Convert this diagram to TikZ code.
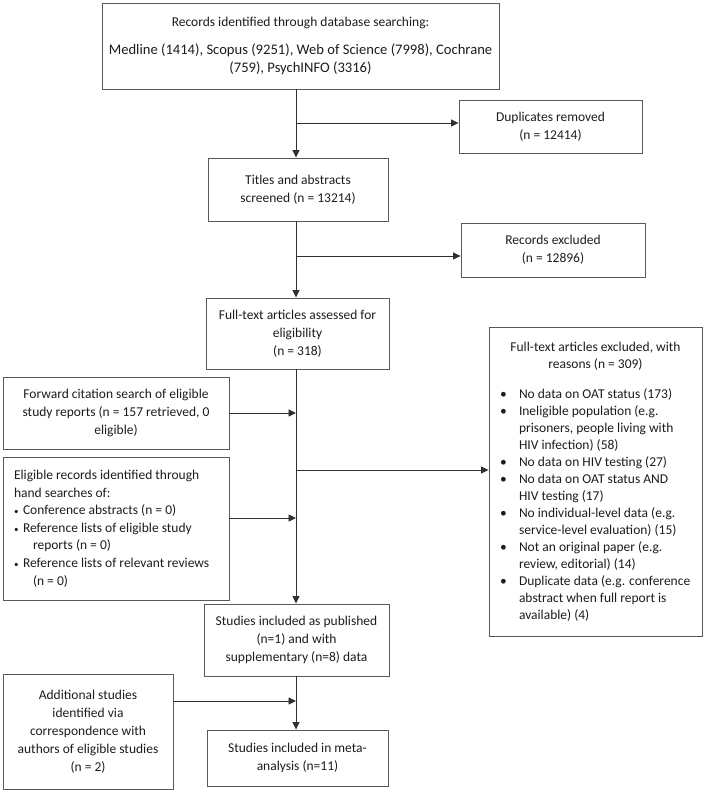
\documentclass[tikz,border=0pt]{standalone}
\usepackage{fontspec}
\setmainfont{Carlito}
\usetikzlibrary{arrows.meta}
\definecolor{boxgray}{HTML}{595959}
\definecolor{linegray}{HTML}{303030}
\definecolor{txt}{HTML}{1c1c1c}
\begin{document}
\begin{tikzpicture}[x=1pt,y=-1pt,
  flowbox/.style={draw=boxgray, line width=0.9pt, inner sep=0pt, anchor=center,
    text=txt, font=\fontsize{13.5}{18}\selectfont, align=center},
  arr/.style={draw=linegray, line width=0.9pt, -{Triangle[length=7.5pt,width=7pt]}}]
\useasboundingbox (0,0) rectangle (709,794);

\node[flowbox, minimum width=397pt, minimum height=86pt] (top) at (300.5,46)
  {Records identified through database searching:\\[10pt]
   {\fontsize{14.6}{17.5}\selectfont Medline (1414), Scopus (9251), Web of Science (7998), Cochrane}\\
   {\fontsize{14.6}{17.5}\selectfont (759), PsychINFO (3316)}};
\node[flowbox, minimum width=183pt, minimum height=53pt] (dup) at (550.5,126.5)
  {Duplicates removed\\(n = 12414)};
\node[flowbox, minimum width=180pt, minimum height=63pt] (titles) at (298,189.5)
  {Titles and abstracts\\screened (n = 13214)};
\node[flowbox, minimum width=184pt, minimum height=54pt] (excl) at (553,250)
  {Records excluded\\(n = 12896)};
\node[flowbox, minimum width=183pt, minimum height=71pt] (full) at (297.5,333.5)
  {Full-text articles assessed for\\eligibility\\(n = 318)};
\node[flowbox, minimum width=213pt, minimum height=309pt, align=left,
      font=\fontsize{13.5}{17}\selectfont] (right) at (595.5,481.5)
  {\makebox[191pt]{Full-text articles excluded, with}\\
   \makebox[191pt]{reasons (n = 309)}\\[13pt]
   \makebox[19pt][l]{•}No data on OAT status (173)\\
   \makebox[19pt][l]{•}Ineligible population (e.g.\\
   \hspace*{19pt}prisoners, people living with\\
   \hspace*{19pt}HIV infection) (58)\\
   \makebox[19pt][l]{•}No data on HIV testing (27)\\
   \makebox[19pt][l]{•}No data on OAT status AND\\
   \hspace*{19pt}HIV testing (17)\\
   \makebox[19pt][l]{•}No individual-level data (e.g.\\
   \hspace*{19pt}service-level evaluation) (15)\\
   \makebox[19pt][l]{•}Not an original paper (e.g.\\
   \hspace*{19pt}review, editorial) (14)\\
   \makebox[19pt][l]{•}Duplicate data (e.g. conference\\
   \hspace*{19pt}abstract when full report is\\
   \hspace*{19pt}available) (4)};
\node[flowbox, minimum width=226pt, minimum height=72pt] (fwd) at (116,413)
  {Forward citation search of eligible\\study reports (n = 157 retrieved, 0\\eligible)};
\node[flowbox, minimum width=226pt, minimum height=143pt, align=left,
      font=\fontsize{13.5}{17.6}\selectfont] (hand) at (116,528.5)
  {\makebox[204pt][l]{Eligible records identified through}\\
   hand searches of:\\
   \makebox[9pt][l]{\fontsize{9}{9}\selectfont•}Conference abstracts (n = 0)\\
   \makebox[9pt][l]{\fontsize{9}{9}\selectfont•}Reference lists of eligible study\\
   \hspace*{19pt}reports (n = 0)\\
   \makebox[9pt][l]{\fontsize{9}{9}\selectfont•}Reference lists of relevant reviews\\
   \hspace*{19pt}(n = 0)};
\node[flowbox, minimum width=185pt, minimum height=72pt] (incl) at (296.5,640)
  {Studies included as published\\(n=1) and with\\supplementary (n=8) data};
\node[flowbox, minimum width=170pt, minimum height=115pt] (add) at (88,731.5)
  {Additional studies\\identified via\\correspondence with\\authors of eligible studies\\(n = 2)};
\node[flowbox, minimum width=181pt, minimum height=56pt] (meta) at (297.5,758)
  {Studies included in meta-\\analysis (n=11)};

\coordinate (sp) at (296,0);
\coordinate (b1) at (296,123);
\coordinate (b2) at (296,256);
\coordinate (b3) at (296,413);
\coordinate (b4) at (296,470);
\coordinate (b5) at (296,518);
\coordinate (b6) at (296,701);

\draw[arr] (top.south -| sp) -- (titles.north -| sp);
\draw[arr] (b1) -- (b1 -| dup.west);
\draw[arr] (titles.south -| sp) -- (full.north -| sp);
\draw[arr] (b2) -- (b2 -| excl.west);
\draw[arr] (full.south -| sp) -- (incl.north -| sp);
\draw[arr] (b3 -| fwd.east) -- (b3);
\draw[arr] (b4) -- (b4 -| right.west);
\draw[arr] (b5 -| hand.east) -- (b5);
\draw[arr] (incl.south -| sp) -- (meta.north -| sp);
\draw[arr] (b6 -| add.east) -- (b6);
\end{tikzpicture}
\end{document}
